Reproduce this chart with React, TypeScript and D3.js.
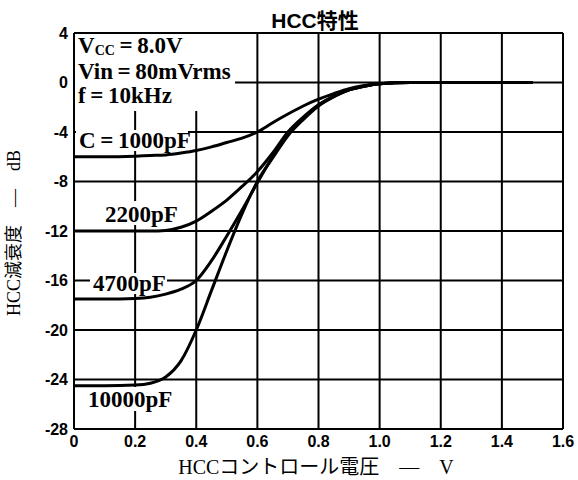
import React from 'react';
import * as d3 from 'd3';

// HCC特性 — attenuation vs. HCC control voltage
const xTicks = [0, 0.2, 0.4, 0.6, 0.8, 1.0, 1.2, 1.4, 1.6];
const yTicks = [4, 0, -4, -8, -12, -16, -20, -24, -28];

const volts = [0, 0.1, 0.2, 0.25, 0.3, 0.35, 0.4, 0.45, 0.5, 0.55, 0.6, 0.65, 0.7, 0.75, 0.8, 0.85, 0.9, 0.95, 1.0, 1.1, 1.5];
const c1000 = [-6.0, -6.0, -5.95, -5.9, -5.85, -5.7, -5.5, -5.2, -4.85, -4.5, -4.0, -3.25, -2.55, -1.9, -1.35, -0.9, -0.5, -0.25, -0.1, 0, 0];
const c2200 = [-12.0, -12.0, -12.0, -12.0, -11.95, -11.7, -11.2, -10.4, -9.5, -8.4, -7.2, -5.7, -4.0, -2.8, -1.8, -1.1, -0.6, -0.3, -0.1, 0, 0];
const c4700 = [-17.5, -17.5, -17.45, -17.35, -17.1, -16.7, -16.0, -14.4, -12.4, -10.3, -8.1, -6.0, -4.2, -2.9, -1.85, -1.15, -0.6, -0.3, -0.1, 0, 0];
const c10000 = [-24.5, -24.5, -24.45, -24.3, -23.8, -22.5, -20.0, -16.8, -13.6, -10.6, -8.0, -6.1, -4.3, -3.0, -1.9, -1.15, -0.6, -0.3, -0.1, 0, 0];

const series = [c1000, c2200, c4700, c10000];

const W = 578;
const H = 480;
const serif = '"Liberation Serif", "Noto Sans CJK JP", serif';
const sans = '"Liberation Sans", "Noto Sans CJK JP", sans-serif';
const ts = '\u2009'; // thin space around "="

export default function App() {
  const x = d3.scaleLinear().domain([0, 1.6]).range([74, 563]);
  const y = d3.scaleLinear().domain([4, -28]).range([33, 429]);

  const line = d3
    .line<[number, number]>()
    .curve(d3.curveMonotoneX)
    .x(d => x(d[0]))
    .y(d => y(d[1]));

  const labelStyle = { fontFamily: serif, fontWeight: 700, fontSize: 23 } as const;

  return (
    <svg width={W} height={H} style={{ position: 'absolute', left: 0, top: 0, background: '#fff' }}>
      <rect width={W} height={H} fill="#fff" />

      {/* title */}
      <text x={315} y={28} textAnchor="middle" fontFamily={sans} fontWeight={700} fontSize={21}>
        HCC特性
      </text>

      {/* grid */}
      <g stroke="#000" strokeWidth={2}>
        {xTicks.map(t => (
          <line key={'gx' + t} x1={x(t)} x2={x(t)} y1={y(4)} y2={y(-28)} />
        ))}
        {yTicks.map(t => (
          <line key={'gy' + t} x1={x(0)} x2={x(1.6)} y1={y(t)} y2={y(t)} />
        ))}
      </g>

      {/* white backing behind annotations (hides grid) */}
      <g fill="#fff">
        <rect x={75} y={34} width={160} height={56} />
        <rect x={75} y={88} width={125} height={23} />
        <rect x={76} y={130} width={112} height={21} />
        <rect x={102} y={201} width={78} height={24} />
        <rect x={90} y={273} width={77} height={21} />
        <rect x={86} y={387} width={89} height={24} />
      </g>

      {/* curves */}
      <g fill="none" stroke="#000" strokeWidth={3} strokeLinejoin="round">
        {series.map((s, i) => (
          <path key={i} d={line(volts.map((v, j) => [v, s[j]] as [number, number])) || ''} />
        ))}
      </g>

      {/* axis tick labels */}
      <g fontFamily={sans} fontWeight={700} fontSize={16}>
        {yTicks.map(t => (
          <text key={'ly' + t} x={68} y={y(t)} dy="0.35em" textAnchor="end">
            {t}
          </text>
        ))}
        {xTicks.map(t => (
          <text key={'lx' + t} x={x(t)} y={447} textAnchor="middle">
            {t === 0 ? '0' : t.toFixed(1)}
          </text>
        ))}
      </g>

      {/* conditions */}
      <g {...labelStyle}>
        <text x={78} y={53}>
          V<tspan fontSize={14} dy={2}>CC</tspan>
          <tspan dy={-2}>{`${ts}=${ts}8.0V`}</tspan>
        </text>
        <text x={78} y={79}>{`Vin${ts}=${ts}80mVrms`}</text>
        <text x={78} y={103}>{`f${ts}=${ts}10kHz`}</text>
        <text x={79} y={148}>{`C${ts}=${ts}1000pF`}</text>
        <text x={105} y={222}>2200pF</text>
        <text x={93} y={291}>4700pF</text>
        <text x={88} y={407}>10000pF</text>
      </g>

      {/* axis titles */}
      <text x={316} y={474} textAnchor="middle" fontFamily={serif} fontSize={20}>
        HCCコントロール電圧　—　V
      </text>
      <text
        transform="translate(20,233) rotate(-90)"
        textAnchor="middle"
        fontFamily={serif}
        fontSize={18}
      >
        HCC減衰度　—　dB
      </text>
    </svg>
  );
}
